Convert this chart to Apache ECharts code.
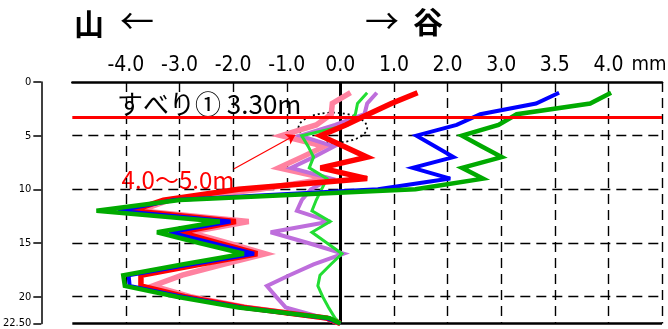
<!DOCTYPE html>
<html><head><meta charset="utf-8">
<script src="https://cdn.jsdelivr.net/npm/echarts@6/dist/echarts.min.js"></script>
<style>html,body{margin:0;padding:0;background:#fff}#c{width:668px;height:329px}</style>
</head><body><div id="c"></div>
<script>
// depth (m) of each reading
const depths = [1,2,3,4,5,6,7,8,9,10,11,12,13,14,15,16,17,18,19,20,21,22,22.5];
// tick labels printed at axis positions -4 .. 5
const xTickLabels = ['-4.0','-3.0','-2.0','-1.0','0.0','1.0','2.0','3.0','3.5','4.0'];
const yTickValues = [0,5,10,15,20,22.5];
const yTickLabels = ['0','5','10','15','20','22.50'];
// displacement readings (axis units) per depth
const pinkVals   = [0.19,-0.15,-0.17,-0.45,-1.1,-0.3,-0.72,-1.15,-0.25,-1.5,-3.2,-3.75,-1.71,-2.82,-2.1,-1.40,-2.2,-2.95,-3.5,-2.8,-1.75,-0.25,0];
const purpleVals = [0.68,0.5,0.45,-0.1,-0.75,-0.12,-0.5,-0.92,-0.17,-0.55,-0.72,-0.81,-0.19,-1.3,-0.6,0.06,-0.5,-0.95,-1.37,-1.2,-1.02,-0.3,0];
const limeVals   = [0.5,0.32,0.28,0.14,-0.72,-0.6,-0.5,-0.58,-0.25,-0.35,-0.45,-0.53,-0.19,-0.53,-0.25,0.03,-0.18,-0.38,-0.42,-0.33,-0.22,-0.1,0];
const redVals    = [1.44,0.95,0.52,0.1,-0.37,0.07,0.5,-0.37,0.5,-1.9,-3.3,-3.9,-1.95,-3.0,-2.28,-1.55,-2.65,-3.72,-3.72,-2.9,-1.8,-0.25,0];
const blueVals   = [4.08,3.65,2.61,2.17,1.42,1.77,2.11,1.35,2.05,0.7,-3.1,-4.15,-2.05,-3.19,-2.4,-1.61,-2.8,-3.95,-3.93,-2.95,-1.85,-0.25,0];
const greenVals  = [5.05,4.66,3.29,2.95,2.27,2.64,3.01,2.27,2.66,1.4,-3.0,-4.55,-2.25,-3.42,-2.63,-1.8,-2.95,-4.05,-4.02,-3.05,-1.9,-0.2,0];
const slipDepth = 3.3;
const xGrid = [-4,-3,-2,-1,1,2,3,4,5,6];
const yGrid = [5,10,15,20];
const arrowFrom = [-1.99,8.1], arrowTo = [-0.84,4.94];
const ellipseCenter = [-0.14,4.26], ellipseRadius = [0.64,1.4];

const narrow = "'Liberation Sans Narrow','DejaVu Sans Condensed',sans-serif";
const cjk = "'Noto Sans CJK JP','Noto Sans',sans-serif";

function mk(name, vals, color, width) {
  return {
    type:'line', name, data: depths.map((d,i)=>[vals[i], d]),
    symbol:'none', silent:true, animation:false,
    lineStyle:{color, width, join:'miter', miterLimit:4}
  };
}
const dash = {type:[10,6], color:'#000', width:1.4};
const series = [
  mk('pink', pinkVals, '#FF82A0', 5.5),
  mk('purple', purpleVals, '#BE6EDC', 4),
  mk('lime', limeVals, '#22DD33', 3),
  mk('red', redVals, '#FF0000', 5.5),
  mk('blue', blueVals, '#0000FF', 4),
  mk('green', greenVals, '#00AA00', 4.5)
];
series[0].markLine = {
  silent:true, symbol:'none', z:1, animation:false, label:{show:false},
  data: [
    ...xGrid.map(v=>({xAxis:v, lineStyle:dash})),
    ...yGrid.map(v=>({yAxis:v, lineStyle:dash})),
    {xAxis:0, lineStyle:{type:'solid', color:'#000', width:3}},
    {yAxis:22.5, lineStyle:{type:'solid', color:'#000', width:2.5}}
  ]
};
series[5].markLine = {
  silent:true, z:20, animation:false, label:{show:false},
  symbol:'none',
  data: [
    {yAxis:slipDepth, lineStyle:{type:'solid', color:'#FF0000', width:3}},
    [{coord:arrowFrom, symbol:'none', lineStyle:{type:'solid', color:'#FF0000', width:1.2}},
     {coord:arrowTo, symbol:'arrow', symbolSize:9}]
  ]
};

const chart = echarts.init(document.getElementById('c'), null, {renderer:'canvas'});
chart.setOption({
  animation:false,
  backgroundColor:'#fff',
  grid:{left:72, right:6, top:82, bottom:5},
  xAxis:{
    type:'value', position:'top', min:-5, max:6, interval:1,
    axisLine:{show:true, onZero:false, lineStyle:{color:'#000', width:2.5}},
    axisTick:{show:false}, splitLine:{show:false},
    axisLabel:{color:'#000', fontSize:21, fontFamily:narrow, margin:6,
      formatter:(v)=>{const i=Math.round(v)+4; return (i>=0&&i<xTickLabels.length)?xTickLabels[i]:'';}}
  },
  yAxis:{
    type:'value', inverse:true, min:0, max:22.5, position:'left', offset:31,
    axisLine:{show:true, onZero:false, lineStyle:{color:'#000', width:1.5}},
    axisTick:{show:true, length:8, customValues:yTickValues, lineStyle:{color:'#000', width:1.5}},
    axisLabel:{customValues:yTickValues, color:'#000', fontSize:11, fontFamily:narrow, margin:10,
      formatter:(v)=>{const i=yTickValues.indexOf(v); return i>=0?yTickLabels[i]:'';}},
    splitLine:{show:false}
  },
  series
});

const c0 = chart.convertToPixel({xAxisIndex:0, yAxisIndex:0}, ellipseCenter);
const c1 = chart.convertToPixel({xAxisIndex:0, yAxisIndex:0}, [ellipseCenter[0]+ellipseRadius[0], ellipseCenter[1]+ellipseRadius[1]]);
chart.setOption({
  graphic:[
    {type:'text', x:74, y:24, style:{text:'山', font:'bold 30px '+cjk, fill:'#000', align:'left', verticalAlign:'middle'}},
    {type:'text', x:137, y:21, style:{text:'←', font:'34px '+cjk, fill:'#000', align:'center', verticalAlign:'middle'}},
    {type:'text', x:382, y:21, style:{text:'→', font:'34px '+cjk, fill:'#000', align:'center', verticalAlign:'middle'}},
    {type:'text', x:413, y:22, style:{text:'谷', font:'bold 30px '+cjk, fill:'#000', align:'left', verticalAlign:'middle'}},
    {type:'text', x:649, y:65, style:{text:'mm', font:'20px '+narrow, fill:'#000', align:'center', verticalAlign:'middle'}},
    {type:'text', x:117, y:104, style:{text:'すべり① 3.30m', font:'26px '+cjk, fill:'#000', align:'left', verticalAlign:'middle'}},
    {type:'ellipse', shape:{cx:c0[0], cy:c0[1], rx:Math.abs(c1[0]-c0[0]), ry:Math.abs(c1[1]-c0[1])},
      style:{fill:'none', stroke:'#000', lineWidth:1.8, lineDash:[2,3]}},
    {type:'rect', shape:{x:103, y:163, width:150, height:29}, style:{fill:'#fff'}},
    {type:'text', x:178, y:180, style:{text:'4.0～5.0m', font:'24px '+cjk, fill:'#FF0000', align:'center', verticalAlign:'middle'}}
  ]
});
</script></body></html>
